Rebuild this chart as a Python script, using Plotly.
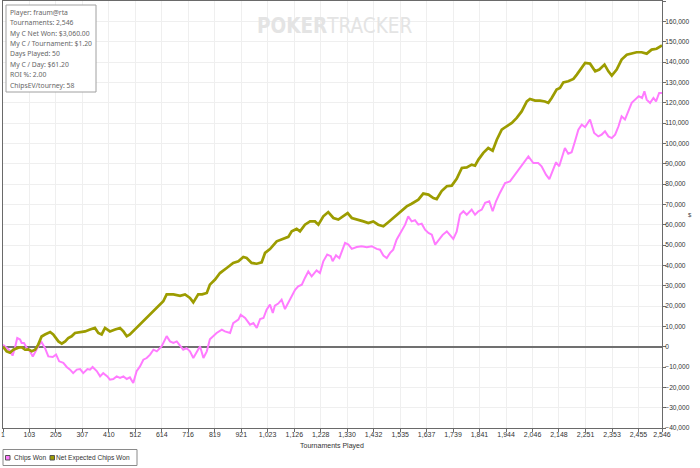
import plotly.graph_objects as go

# ---- data (thousands of chips) ----
net_ev_tourneys = [1, 15, 28, 41, 60, 73, 86, 99, 112, 125, 137, 150, 163, 183, 195, 215, 228, 241, 253, 266,
                   279, 299, 318, 337, 356, 369, 382, 395, 414, 434, 453, 466, 479, 491, 517, 543, 569, 595, 620, 633,
                   659, 685, 704, 723, 736, 755, 770, 788, 800, 820, 839, 865, 890, 910, 929, 942, 961, 981, 1000, 1013,
                   1032, 1058, 1083, 1103, 1116, 1135, 1148, 1167, 1187, 1206, 1219, 1238, 1257, 1277, 1296, 1315, 1332, 1348, 1373, 1393,
                   1412, 1431, 1450, 1470, 1489, 1508, 1534, 1560, 1579, 1605, 1624, 1644, 1663, 1676, 1695, 1715, 1734, 1753, 1773, 1792,
                   1811, 1824, 1837, 1856, 1875, 1892, 1908, 1927, 1946, 1966, 1985, 2004, 2024, 2036, 2056, 2075, 2094, 2107, 2120, 2139,
                   2152, 2165, 2184, 2204, 2217, 2230, 2249, 2268, 2288, 2304, 2324, 2339, 2352, 2371, 2390, 2410, 2429, 2448, 2467, 2487,
                   2506, 2525, 2546]
net_ev_k = [0, -2.3, -3, -1.5, -0.5, -0.3, -1.5, -1.3, -2.2, -1.5, 1, 5, 6, 7.2, 6, 2.6, 1.5, 2.6, 4.2, 5.1,
            6.7, 7.2, 7.5, 8.4, 9.2, 6.7, 6, 9.2, 7.5, 8.4, 9.2, 7.5, 5.1, 6, 9.2, 12.5, 15.8, 19, 22.3, 25.7,
            25.7, 25, 25.7, 24, 21.8, 25.7, 25.7, 26.4, 30.5, 33, 36.2, 38.7, 41.2, 42, 44.1, 43.6, 41.2, 40.8, 41.5, 46.1,
            48, 51.8, 53, 54, 56.7, 57.9, 56.7, 60, 61.6, 61.6, 60, 64.1, 66.2, 63.3, 62.5, 64.4, 65.7, 63.3, 62.5, 61.6,
            60.8, 61.6, 60, 59.2, 61.2, 63.3, 66.6, 69, 70.3, 72.3, 75.3, 74.8, 73.1, 72.6, 76.5, 78.9, 79.2, 82.5, 87.9, 88.2,
            89.5, 89, 92, 95.3, 97.7, 96.4, 101.8, 106.7, 108.4, 110, 112.5, 115.7, 120.6, 121.8, 121, 121, 120.6, 119.9, 122.3, 126.4,
            127.2, 130, 130.5, 131.7, 133.8, 136.3, 139.5, 139.2, 135.4, 136.3, 138.7, 135.4, 133.3, 136.3, 141.2, 143.6, 144.1, 144.8, 144.8, 144.1,
            146.1, 146.5, 148.1]

chips_tourneys = [1, 15, 28, 38, 47, 56, 67, 73, 82, 93, 105, 116, 128, 141, 150, 163, 176, 193, 206, 218,
                  234, 247, 260, 272, 286, 299, 311, 327, 337, 347, 363, 376, 388, 404, 414, 427, 440, 453, 466, 479,
                  491, 504, 517, 530, 543, 556, 569, 582, 595, 614, 627, 633, 646, 659, 672, 685, 697, 710, 723, 736,
                  749, 762, 775, 788, 800, 813, 826, 846, 858, 878, 890, 910, 919, 936, 955, 968, 981, 994, 1007, 1019,
                  1032, 1043, 1051, 1064, 1077, 1090, 1103, 1116, 1129, 1141, 1155, 1167, 1180, 1193, 1212, 1225, 1238, 1253, 1267, 1274,
                  1287, 1300, 1309, 1322, 1335, 1348, 1367, 1386, 1406, 1425, 1444, 1457, 1470, 1483, 1496, 1508, 1521, 1541, 1554, 1566,
                  1579, 1592, 1605, 1618, 1631, 1644, 1657, 1670, 1683, 1699, 1715, 1727, 1740, 1753, 1766, 1779, 1792, 1811, 1824, 1837,
                  1850, 1863, 1879, 1892, 1905, 1920, 1940, 1959, 1978, 1998, 2017, 2030, 2049, 2068, 2081, 2098, 2111, 2124, 2137, 2149,
                  2163, 2171, 2184, 2197, 2210, 2223, 2236, 2249, 2268, 2284, 2300, 2313, 2326, 2339, 2352, 2365, 2378, 2390, 2403, 2417,
                  2429, 2442, 2456, 2469, 2478, 2487, 2500, 2513, 2523, 2535, 2546]
chips_k = [1, -0.6, -2, -4.4, -0.7, 4.3, 3.5, 1.8, 1.8, -0.6, -2.3, -4.8, -2.3, 1.1, 2.2, -0.6, -4.8, -5.1, -3.9, -7.2,
           -8, -10, -11.3, -13, -11.3, -11, -13, -11, -11.3, -10, -12, -14.6, -13, -14.6, -16.2, -15.9, -14.6, -15.4, -14.6, -15.9,
           -15.1, -17.9, -12.1, -9.7, -6.4, -5.6, -3.9, -1.5, -2.3, 0.2, 3.6, 5.2, 2.6, 1.8, 2.6, 0.2, -1.5, -0.7, -2.3, -5.6,
           -2.3, 0.2, -5.6, -2.3, 3.6, 5.2, 6.7, 8.4, 7.5, 6.7, 11.6, 13.3, 15.7, 14.1, 10.8, 11.6, 9.2, 13.6, 14.1, 18.2,
           20.7, 16.6, 20.2, 21.2, 23.1, 18.5, 21.5, 24.7, 28, 29.7, 30.5, 33.8, 37, 34.6, 37.5, 36.2, 42, 45.3, 44.5, 42,
           44.9, 43.6, 46.9, 51, 50.2, 48.1, 49, 49.4, 48.9, 49.4, 48.1, 47.7, 44.8, 43.6, 46.1, 47.7, 52.6, 57.5, 60, 64.1,
           61.6, 62.2, 60, 60.5, 57.5, 55.9, 55.1, 50.2, 52.6, 55, 56.7, 55.1, 53, 56.5, 65, 66.6, 64.9, 67.4, 64.9, 66.6,
           67.4, 70.7, 71.5, 66.6, 71.5, 75.6, 80.5, 81.3, 84.6, 87.9, 91.1, 93.6, 90.3, 90.3, 88.7, 84.6, 82.4, 86.2, 90.7, 88.7,
           95.3, 97.7, 94.9, 95.6, 101, 106.7, 109.2, 108, 111.7, 105.1, 103.4, 104.3, 105.9, 103.4, 102.6, 104.3, 108.4, 113.3, 111.7, 115.8,
           119.9, 121.5, 123.2, 122.3, 125.6, 121.5, 119.9, 122.3, 120.6, 124.8, 124.8]

x_tick_labels = ["1", "103", "205", "307", "410", "512", "614", "716", "819", "921", "1,023", "1,126",
                 "1,228", "1,330", "1,432", "1,535", "1,637", "1,739", "1,841", "1,944", "2,046", "2,148",
                 "2,251", "2,353", "2,455", "2,546"]

info_lines = ["Player: fraum@rta", "Tournaments: 2,546", "My C Net Won: $3,060.00",
              "My C / Tournament: $1.20", "Days Played: 50", "My C / Day: $61.20",
              "ROI %: 2.00", "ChipsEV/tourney: 58"]

series_names = ["Chips Won", "Net Expected Chips Won"]
PINK = "#ff7bff"
OLIVE = "#9c9c00"
FONT = "Liberation Sans, Arial, sans-serif"

# plot-area geometry (pixels) used to place the decorations
W, H = 700, 468
PL, PR, PT, PB = 3, 662, 1, 428
def px(xp):
    return (xp - PL) / (PR - PL)
def py(yp):
    return (PB - yp) / (PB - PT)

x_tick_vals = [int(s.replace(",", "")) for s in x_tick_labels]

fig = go.Figure()
fig.add_trace(go.Scatter(x=chips_tourneys, y=[v * 1000 for v in chips_k], mode="lines",
                         name=series_names[0], line=dict(color=PINK, width=2),
                         showlegend=False, hoverinfo="skip"))
fig.add_trace(go.Scatter(x=net_ev_tourneys, y=[v * 1000 for v in net_ev_k], mode="lines",
                         name=series_names[1], line=dict(color=OLIVE, width=2.7),
                         showlegend=False, hoverinfo="skip"))

fig.update_layout(
    width=W, height=H,
    margin=dict(l=PL, r=W - PR, t=PT, b=H - PB, autoexpand=False),
    paper_bgcolor="white", plot_bgcolor="white",
    font=dict(family=FONT, size=7, color="#333333"),
    showlegend=False,
    xaxis=dict(range=[1, 2546], tickvals=x_tick_vals, ticktext=x_tick_labels,
               showgrid=True, gridcolor="#efefef", gridwidth=1,
               showline=True, linecolor="#6a6a6a", linewidth=1, mirror=True,
               ticks="outside", ticklen=3, tickcolor="#6a6a6a", automargin=False,
               ticklabelstandoff=-3,
               zeroline=False, tickfont=dict(size=7, color="#333333")),
    yaxis=dict(range=[-40000, 170000], dtick=10000, tickformat=",", side="right",
               showgrid=True, gridcolor="#efefef", gridwidth=1,
               showline=True, linecolor="#6a6a6a", linewidth=1, mirror=True,
               ticks="outside", ticklen=3, tickcolor="#6a6a6a", automargin=False,
               ticklabelstandoff=-2,
               zeroline=True, zerolinecolor="#707070", zerolinewidth=1.5,
               tickfont=dict(size=6.6, color="#333333")),
)

# x-axis title
fig.add_annotation(xref="paper", yref="paper", x=px(332), y=py(446), yanchor="middle",
                   text="Tournaments Played", showarrow=False, font=dict(size=7, color="#333333"))
# "$" axis label
fig.add_annotation(xref="paper", yref="paper", x=px(694), y=py(215), yanchor="middle",
                   text="$", showarrow=False, font=dict(size=6, color="#444444"))

# watermark
fig.add_annotation(xref="paper", yref="paper", x=px(255), y=py(26), xanchor="left", yanchor="middle",
                   text="<b>POKER</b>TRACKER", showarrow=False,
                   font=dict(family="DejaVu Sans Condensed, Liberation Sans Narrow, sans-serif",
                             size=20.5, color="#e4e4e4"))

# info box
fig.add_shape(type="rect", xref="paper", yref="paper", x0=px(6), x1=px(96), y0=py(92), y1=py(5),
              line=dict(color="#a0a0a0", width=1), fillcolor="white", layer="above")
for i, line in enumerate(info_lines):
    fig.add_annotation(xref="paper", yref="paper", x=px(8), y=py(12.3 + i * 10.4),
                       xanchor="left", yanchor="middle", text=line, showarrow=False,
                       font=dict(family="Noto Sans, sans-serif", size=6.8, color="#666666"))

# legend (bottom left)
fig.add_shape(type="rect", xref="paper", yref="paper", x0=px(3), x1=px(137), y0=py(465.5), y1=py(449.5),
              line=dict(color="#8a8a8a", width=1), fillcolor="white")
leg_sw = [(5.5, PINK), (50, OLIVE)]
leg_tx = [11.5, 54]
for (sx, col), tx, name in zip(leg_sw, leg_tx, series_names):
    fig.add_shape(type="rect", xref="paper", yref="paper", x0=px(sx), x1=px(sx + 4.5),
                  y0=py(460), y1=py(455.5), line=dict(color="#555555", width=1), fillcolor=col)
    fig.add_annotation(xref="paper", yref="paper", x=px(tx), y=py(457.8), xanchor="left",
                       yanchor="middle", text=name, showarrow=False,
                       font=dict(size=6.6, color="#333333"))

fig.write_html("out.html", config={"displayModeBar": False},
               post_script="document.body.style.margin='0';document.body.style.overflow='hidden';")
